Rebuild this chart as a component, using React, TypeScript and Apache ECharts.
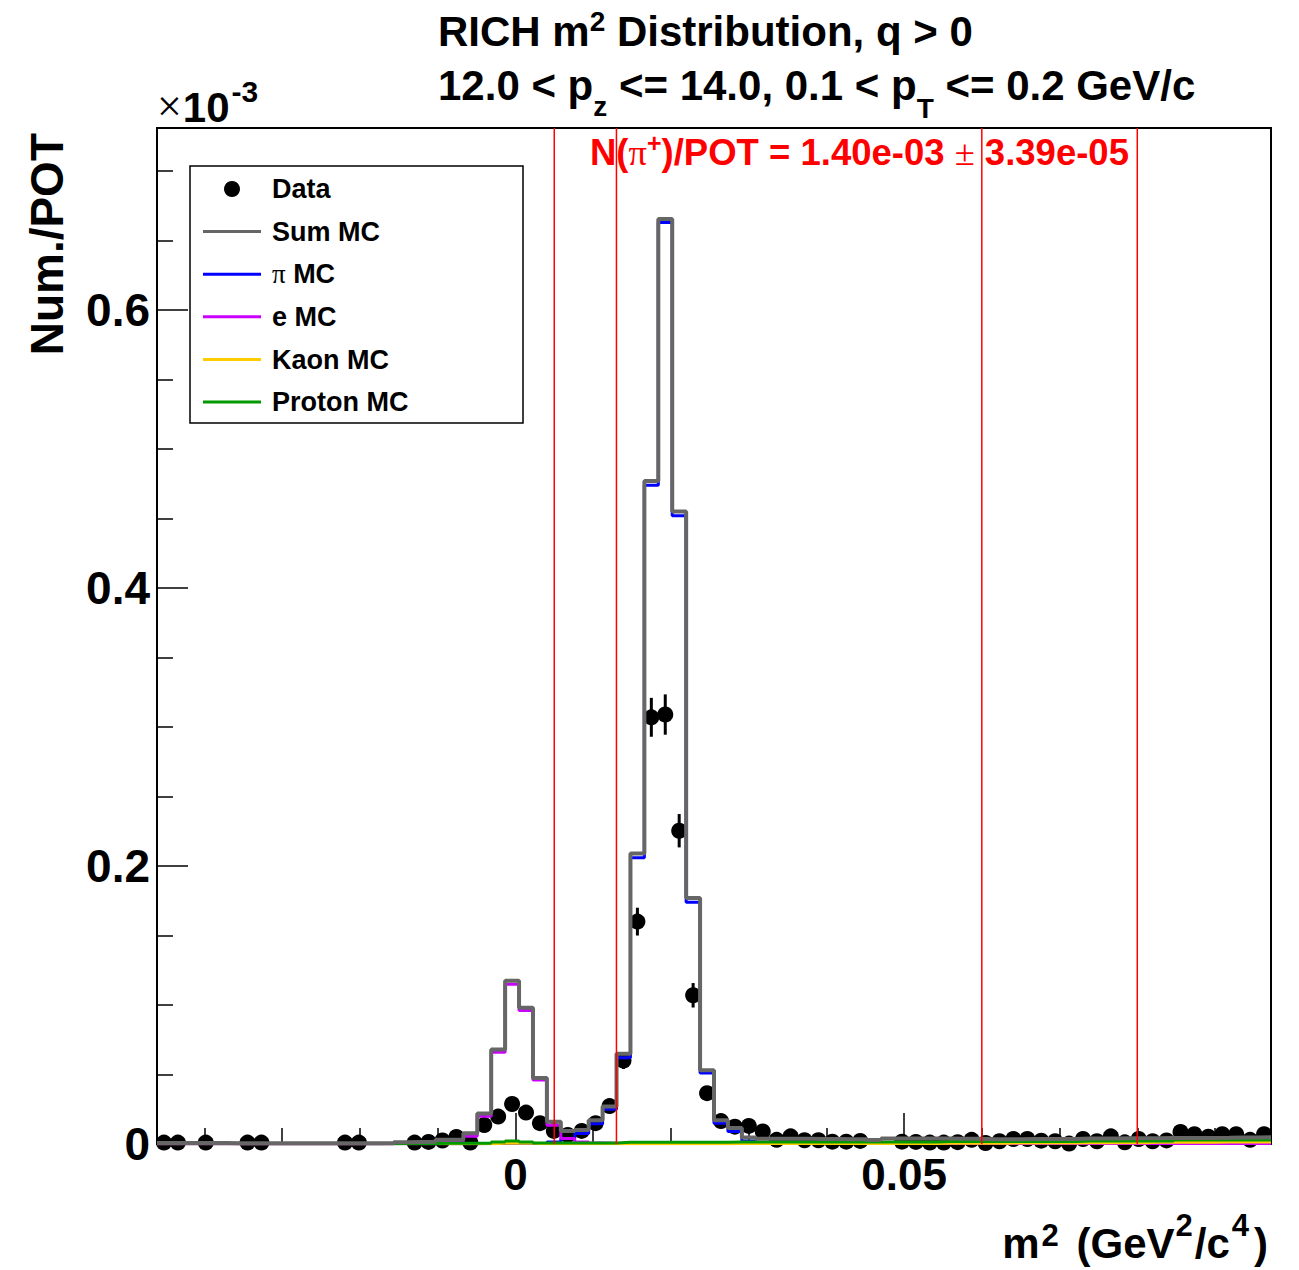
import React, { useEffect, useRef } from "react";
import * as echarts from "echarts";

// ---------- axis ranges & ticks ----------
const X_MIN = -0.0461;
const X_MAX = 0.0972;
const N_BINS = 80;
const Y_MIN = 0;
const Y_MAX = 0.731;

const X_MAJOR_TICKS = [0, 0.05];
const X_MINOR_TICKS = [-0.04, -0.03, -0.02, -0.01, 0.01, 0.02, 0.03, 0.04, 0.06, 0.07, 0.08, 0.09];
const Y_MAJOR_TICKS = [0, 0.2, 0.4, 0.6];
const Y_MINOR_TICKS = [0.05, 0.1, 0.15, 0.25, 0.3, 0.35, 0.45, 0.5, 0.55, 0.65, 0.7];
const CUT_LINES = [0.005, 0.013, 0.06, 0.08];

// ---------- histogram contents (x10^-3), 80 bins ----------
const SUM_MC = [
  0.0008, 0.0008, 0.0008, 0.0008, 0.0008, 0.0005, 0.0005, 0.0005, 0.0005, 0.0005,
  0.0005, 0.0005, 0.0005, 0.0005, 0.0005, 0.0005, 0.0006, 0.0012, 0.0015, 0.0016,
  0.003, 0.0032, 0.0077, 0.022, 0.068, 0.1175, 0.098, 0.0475, 0.016, 0.0094,
  0.01, 0.017, 0.027, 0.065, 0.209, 0.477, 0.6655, 0.455, 0.177, 0.053,
  0.017, 0.0115, 0.0046, 0.0038, 0.0038, 0.0037, 0.0037, 0.0036, 0.0036, 0.0035,
  0.0035, 0.0028, 0.004, 0.004, 0.004, 0.0039, 0.0039, 0.0038, 0.0037, 0.0034,
  0.0034, 0.0034, 0.0036, 0.0036, 0.0036, 0.0036, 0.004, 0.004, 0.004, 0.0041,
  0.0042, 0.0042, 0.0043, 0.0043, 0.0044, 0.0044, 0.0045, 0.0047, 0.0047, 0.0048,
];
const PI_MC = [
  0.0001, 0.0001, 0.0001, 0.0001, 0.0001, 0.0001, 0.0001, 0.0001, 0.0001, 0.0001,
  0.0001, 0.0001, 0.0001, 0.0001, 0.0001, 0.0001, 0.0001, 0.0001, 0.0001, 0.0001,
  0.0001, 0.0002, 0.0002, 0.0003, 0.0004, 0.0004, 0.0004, 0.0006, 0.0015, 0.004,
  0.0075, 0.0145, 0.025, 0.062, 0.206, 0.474, 0.663, 0.452, 0.174, 0.051,
  0.015, 0.009, 0.0022, 0.0006, 0.0006, 0.0006, 0.0006, 0.0006, 0.0006, 0.0006,
  0.0005, 0.0005, 0.0005, 0.0005, 0.0005, 0.0005, 0.0005, 0.0005, 0.0005, 0.0005,
  0.0004, 0.0004, 0.0004, 0.0004, 0.0004, 0.0004, 0.0004, 0.0004, 0.0004, 0.0004,
  0.0003, 0.0003, 0.0003, 0.0003, 0.0003, 0.0003, 0.0003, 0.0003, 0.0003, 0.0003,
];
const E_MC = [
  0.0001, 0.0001, 0.0001, 0.0001, 0.0001, 0.0001, 0.0001, 0.0001, 0.0001, 0.0001,
  0.0001, 0.0001, 0.0001, 0.0001, 0.0001, 0.0001, 0.0004, 0.0004, 0.0004, 0.0004,
  0.0015, 0.0018, 0.0055, 0.02, 0.066, 0.115, 0.096, 0.046, 0.0135, 0.004,
  0.0015, 0.0008, 0.0005, 0.0004, 0.0004, 0.0004, 0.0004, 0.0004, 0.0004, 0.0004,
  0.0003, 0.0003, 0.0003, 0.0003, 0.0003, 0.0003, 0.0003, 0.0003, 0.0003, 0.0003,
  0.0003, 0.0003, 0.0003, 0.0003, 0.0003, 0.0003, 0.0003, 0.0003, 0.0003, 0.0003,
  0.0003, 0.0003, 0.0003, 0.0003, 0.0003, 0.0003, 0.0003, 0.0003, 0.0003, 0.0003,
  0.0003, 0.0003, 0.0003, 0.0003, 0.0003, 0.0003, 0.0003, 0.0003, 0.0003, 0.0003,
];
const KAON_MC = [
  0.0001, 0.0001, 0.0001, 0.0001, 0.0001, 0.0001, 0.0001, 0.0001, 0.0001, 0.0001,
  0.0001, 0.0001, 0.0001, 0.0001, 0.0001, 0.0001, 0.0001, 0.0001, 0.0001, 0.0001,
  0.0001, 0.0002, 0.0002, 0.0002, 0.0005, 0.0008, 0.0005, 0.0002, 0.0002, 0.0002,
  0.0002, 0.0002, 0.0002, 0.0002, 0.0002, 0.0002, 0.0002, 0.0002, 0.0002, 0.0002,
  0.0002, 0.0003, 0.0003, 0.0003, 0.0003, 0.0003, 0.0003, 0.0003, 0.0003, 0.0003,
  0.0003, 0.0003, 0.0003, 0.0003, 0.0003, 0.0003, 0.0005, 0.0005, 0.0005, 0.0005,
  0.0005, 0.0007, 0.0007, 0.0007, 0.0007, 0.0007, 0.0009, 0.0009, 0.0009, 0.0009,
  0.0009, 0.0012, 0.0012, 0.0012, 0.0012, 0.0012, 0.0015, 0.0015, 0.0015, 0.0015,
];
const PROTON_MC = [
  0.0003, 0.0003, 0.0003, 0.0003, 0.0003, 0.0003, 0.0003, 0.0003, 0.0003, 0.0003,
  0.0003, 0.0003, 0.0003, 0.0003, 0.0003, 0.0003, 0.0003, 0.0003, 0.0003, 0.0003,
  0.0006, 0.0006, 0.0006, 0.0006, 0.0015, 0.0022, 0.0015, 0.0008, 0.0008, 0.0008,
  0.0008, 0.0008, 0.0008, 0.0012, 0.0012, 0.0012, 0.0012, 0.0012, 0.0012, 0.0012,
  0.0012, 0.0015, 0.0015, 0.0015, 0.0015, 0.0015, 0.0015, 0.0015, 0.0015, 0.0015,
  0.0015, 0.0015, 0.0015, 0.0015, 0.0015, 0.0015, 0.0018, 0.0018, 0.0018, 0.0018,
  0.0018, 0.0018, 0.0018, 0.0018, 0.0018, 0.0018, 0.0022, 0.0022, 0.0022, 0.0022,
  0.0022, 0.0022, 0.0022, 0.0028, 0.0028, 0.0028, 0.0028, 0.0028, 0.0028, 0.0028,
];
const DATA_VAL = [
  0.001, 0.001, null, 0.001, null, null, 0.001, 0.001, null, null,
  null, null, null, 0.001, 0.001, null, null, null, 0.001, 0.0015,
  0.0025, 0.005, 0.001, 0.0137, 0.0197, 0.0288, 0.0226, 0.015, 0.0094, 0.0065,
  0.0094, 0.015, 0.0273, 0.06, 0.16, 0.307, 0.309, 0.2254, 0.107, 0.0366,
  0.0165, 0.0125, 0.013, 0.009, 0.003, 0.0055, 0.0027, 0.0027, 0.0017, 0.0017,
  0.0022, null, null, 0.0017, 0.0015, 0.001, 0.001, 0.0013, 0.003, 0.0007,
  0.002, 0.0036, 0.0036, 0.0024, 0.002, 0.0003, 0.0036, 0.002, 0.0055, 0.0012,
  0.0036, 0.002, 0.0026, 0.0086, 0.007, 0.0053, 0.007, 0.007, 0.003, 0.007,
];
const DATA_ERR = [
  0.0007, 0.0007, 0, 0.0007, 0, 0, 0.0007, 0.0007, 0, 0,
  0, 0, 0, 0.0007, 0.0007, 0, 0, 0, 0.0007, 0.001,
  0.0013, 0.0018, 0.0008, 0.003, 0.0035, 0.0043, 0.0038, 0.003, 0.0025, 0.002,
  0.0025, 0.003, 0.004, 0.006, 0.01, 0.014, 0.0145, 0.012, 0.0088, 0.005,
  0.0033, 0.003, 0.003, 0.0025, 0.0014, 0.002, 0.0013, 0.0013, 0.001, 0.001,
  0.0012, 0, 0, 0.001, 0.001, 0.0008, 0.0008, 0.0009, 0.0014, 0.0007,
  0.0011, 0.0015, 0.0015, 0.0012, 0.0011, 0.0005, 0.0015, 0.0011, 0.0019, 0.0009,
  0.0015, 0.0011, 0.0013, 0.0023, 0.0021, 0.0018, 0.0021, 0.0021, 0.0014, 0.0021,
];

const LEGEND_LABELS = ["Data", "Sum MC", "π MC", "e MC", "Kaon MC", "Proton MC"];
const SERIES_COLORS = {
  sum: "#666666",
  pi: "#0000ff",
  e: "#cc00ff",
  kaon: "#ffcc00",
  proton: "#009900",
};

const SANS = '"Liberation Sans", Arial, Helvetica, sans-serif';
const SERIF = '"Liberation Serif", "Times New Roman", serif';

type Piece = { t: string; s: number; dy?: number; serif?: boolean; gap?: number };

function makeMeasurer() {
  const c = document.createElement("canvas");
  const ctx = c.getContext("2d") as CanvasRenderingContext2D;
  return (p: Piece, text?: string) => {
    ctx.font = `${p.serif ? "normal" : "bold"} ${p.s}px ${p.serif ? SERIF : SANS}`;
    return ctx.measureText(text !== undefined ? text : p.t).width;
  };
}

function textRun(
  measure: (p: Piece, t?: string) => number,
  pieces: Piece[],
  x: number,
  baseline: number,
  align: "left" | "right",
  color: string,
  z = 100
) {
  const widths = pieces.map((p) => measure(p) + (p.gap || 0));
  const total = widths.reduce((a, b) => a + b, 0);
  let cx = align === "left" ? x : x - total;
  const out: any[] = [];
  pieces.forEach((p, i) => {
    const trimmedStart = p.t.replace(/^\s+/, "");
    const leadCount = p.t.length - trimmedStart.length;
    const leadW = leadCount > 0 ? measure(p, " ".repeat(leadCount)) : 0;
    const txt = p.t.trim();
    if (txt.length) {
      out.push({
        type: "text",
        x: cx + leadW,
        y: baseline + (p.dy || 0) - 0.3465 * p.s,
        z,
        silent: true,
        style: {
          text: txt,
          fontSize: p.s,
          fontWeight: p.serif ? "normal" : "bold",
          fontFamily: p.serif ? SERIF : SANS,
          fill: color,
          align: "left",
          verticalAlign: "middle",
        },
      });
    }
    cx += widths[i];
  });
  return out;
}

export default function App() {
  const ref = useRef<HTMLDivElement>(null);

  useEffect(() => {
    if (!ref.current) return;
    const chart = echarts.init(ref.current, null, { renderer: "svg" });
    const measure = makeMeasurer();

    const binW = (X_MAX - X_MIN) / N_BINS;
    const edges = Array.from({ length: N_BINS + 1 }, (_, k) => X_MIN + k * binW);
    const hist = (vals: number[]) =>
      vals.map((v, k) => [edges[k], v]).concat([[X_MAX, vals[N_BINS - 1]]]);

    const dataPoints: number[][] = [];
    DATA_VAL.forEach((v, k) => {
      if (v !== null) dataPoints.push([edges[k] + binW / 2, v as number, DATA_ERR[k]]);
    });

    const lineSeries = (name: string, vals: number[], color: string, width: number, z: number) => ({
      name,
      type: "line",
      step: "end",
      data: hist(vals),
      showSymbol: false,
      symbol: "none",
      lineStyle: { color, width },
      itemStyle: { color },
      z,
      silent: true,
    });

    // ---------- graphics: titles, legend ----------
    const g: any[] = [];
    g.push(
      ...textRun(measure, [
        { t: "RICH m", s: 42 },
        { t: "2", s: 28, dy: -15 },
        { t: " Distribution, q > 0", s: 42 },
      ], 438, 46, "left", "#000")
    );
    g.push(
      ...textRun(measure, [
        { t: "12.0 < p", s: 42 },
        { t: "z", s: 28, dy: 16 },
        { t: " <= 14.0, 0.1 < p", s: 42 },
        { t: "T", s: 28, dy: 18 },
        { t: " <= 0.2 GeV/c", s: 42 },
      ], 438, 100, "left", "#000")
    );
    g.push(
      ...textRun(measure, [
        { t: "×", s: 44, serif: true, gap: 1 },
        { t: "10", s: 42, gap: 2 },
        { t: "-3", s: 30, dy: -20 },
      ], 157, 122, "left", "#000")
    );
    g.push(
      ...textRun(measure, [
        { t: "N(", s: 36.5 },
        { t: "π", s: 36.5, serif: true },
        { t: "+", s: 25, dy: -13 },
        { t: ")/POT = 1.40e-03 ", s: 36.5 },
        { t: "±", s: 36.5, serif: true },
        { t: " 3.39e-05", s: 36.5 },
      ], 590, 165, "left", "#ff0000", 60)
    );
    g.push(
      ...textRun(measure, [
        { t: "m", s: 42, gap: 2 },
        { t: "2", s: 31, dy: -12, gap: 6 },
        { t: " (GeV", s: 42, gap: 1 },
        { t: "2", s: 31, dy: -22, gap: 2 },
        { t: "/c", s: 42, gap: 2 },
        { t: "4", s: 31, dy: -22, gap: 5 },
        { t: ")", s: 42 },
      ], 1268, 1258, "right", "#000")
    );
    g.push({
      type: "text",
      x: 47,
      y: 133,
      rotation: Math.PI / 2,
      silent: true,
      style: {
        text: "Num./POT",
        fontSize: 46,
        fontWeight: "bold",
        fontFamily: SANS,
        fill: "#000",
        align: "right",
        verticalAlign: "middle",
      },
    });

    // legend
    g.push({
      type: "rect",
      shape: { x: 190, y: 166, width: 333, height: 257 },
      style: { fill: "#fff", stroke: "#000", lineWidth: 1.5 },
      z: 50,
      silent: true,
    });
    const legendColors = [null, SERIES_COLORS.sum, SERIES_COLORS.pi, SERIES_COLORS.e, SERIES_COLORS.kaon, SERIES_COLORS.proton];
    LEGEND_LABELS.forEach((label, i) => {
      const y = 189 + i * 42.6;
      const c = legendColors[i];
      if (c === null) {
        g.push({ type: "circle", shape: { cx: 232, cy: y, r: 8 }, style: { fill: "#000" }, z: 51, silent: true });
      } else {
        g.push({
          type: "line",
          shape: { x1: 203, y1: y, x2: 261, y2: y },
          style: { stroke: c, lineWidth: 3 },
          z: 51,
          silent: true,
        });
      }
      const pieces: Piece[] = label.startsWith("π")
        ? [{ t: "π", s: 27, serif: true }, { t: label.slice(1), s: 27 }]
        : [{ t: label, s: 27 }];
      g.push(...textRun(measure, pieces, 272, y + 9.5, "left", "#000", 52));
    });

    const option: any = {
      animation: false,
      backgroundColor: "#ffffff",
      grid: {
        left: 157,
        top: 128,
        right: 28,
        bottom: 126,
        show: true,
        borderColor: "#000",
        borderWidth: 2,
        backgroundColor: "transparent",
        containLabel: false,
        outerBoundsMode: "none",
      },
      xAxis: [
        {
          type: "value",
          min: X_MIN,
          max: X_MAX,
          position: "bottom",
          axisLine: { show: true, onZero: false, lineStyle: { color: "#000", width: 2 } },
          axisTick: {
            show: true,
            inside: true,
            length: 31,
            customValues: X_MAJOR_TICKS,
            lineStyle: { color: "#000", width: 1.5 },
          },
          axisLabel: {
            show: true,
            customValues: X_MAJOR_TICKS,
            margin: 8,
            fontSize: 44,
            fontWeight: "bold",
            fontFamily: SANS,
            color: "#000",
            formatter: (v: number) => String(v),
          },
          splitLine: { show: false },
        },
        {
          type: "value",
          min: X_MIN,
          max: X_MAX,
          position: "bottom",
          axisLine: { show: false, onZero: false },
          axisTick: {
            show: true,
            inside: true,
            length: 16,
            customValues: X_MINOR_TICKS,
            lineStyle: { color: "#000", width: 1.5 },
          },
          axisLabel: { show: false },
          splitLine: { show: false },
        },
      ],
      yAxis: [
        {
          type: "value",
          min: Y_MIN,
          max: Y_MAX,
          position: "left",
          axisLine: { show: true, onZero: false, lineStyle: { color: "#000", width: 2 } },
          axisTick: {
            show: true,
            inside: true,
            length: 31,
            customValues: Y_MAJOR_TICKS,
            lineStyle: { color: "#000", width: 1.5 },
          },
          axisLabel: {
            show: true,
            customValues: Y_MAJOR_TICKS,
            margin: 7,
            fontSize: 46,
            fontWeight: "bold",
            fontFamily: SANS,
            color: "#000",
            formatter: (v: number) => String(v),
          },
          splitLine: { show: false },
        },
        {
          type: "value",
          min: Y_MIN,
          max: Y_MAX,
          position: "left",
          axisLine: { show: false, onZero: false },
          axisTick: {
            show: true,
            inside: true,
            length: 16,
            customValues: Y_MINOR_TICKS,
            lineStyle: { color: "#000", width: 1.5 },
          },
          axisLabel: { show: false },
          splitLine: { show: false },
        },
      ],
      series: [
        {
          name: "Data",
          type: "custom",
          data: dataPoints,
          z: 1,
          silent: true,
          renderItem: (params: any, api: any) => {
            const x = api.value(0);
            const y = api.value(1);
            const e = api.value(2);
            const p = api.coord([x, y]);
            const top = api.coord([x, y + e]);
            const bot = api.coord([x, Math.max(0, y - e)]);
            return {
              type: "group",
              children: [
                {
                  type: "line",
                  shape: { x1: p[0], y1: top[1], x2: p[0], y2: bot[1] },
                  style: { stroke: "#000", lineWidth: 3 },
                },
                { type: "circle", shape: { cx: p[0], cy: p[1], r: 8 }, style: { fill: "#000" } },
              ],
            };
          },
        },
        lineSeries("π MC", PI_MC, SERIES_COLORS.pi, 3, 2),
        lineSeries("e MC", E_MC, SERIES_COLORS.e, 3, 2),
        lineSeries("Kaon MC", KAON_MC, SERIES_COLORS.kaon, 3, 2),
        lineSeries("Proton MC", PROTON_MC, SERIES_COLORS.proton, 3, 2),
        lineSeries("Sum MC", SUM_MC, SERIES_COLORS.sum, 4, 3),
        {
          name: "Cuts",
          type: "custom",
          data: CUT_LINES.map((v) => [v, Y_MAX]),
          z: 4,
          silent: true,
          renderItem: (params: any, api: any) => {
            const x = api.value(0);
            const a = api.coord([x, Y_MIN]);
            const b = api.coord([x, Y_MAX]);
            return {
              type: "line",
              shape: { x1: a[0], y1: a[1], x2: b[0], y2: b[1] },
              style: { stroke: "#ff0000", lineWidth: 1.5 },
            };
          },
        },
      ],
      graphic: g,
    };

    chart.setOption(option);
    return () => chart.dispose();
  }, []);

  return (
    <div
      ref={ref}
      style={{ position: "absolute", left: 0, top: 0, width: 1299, height: 1270, background: "#fff" }}
    />
  );
}
